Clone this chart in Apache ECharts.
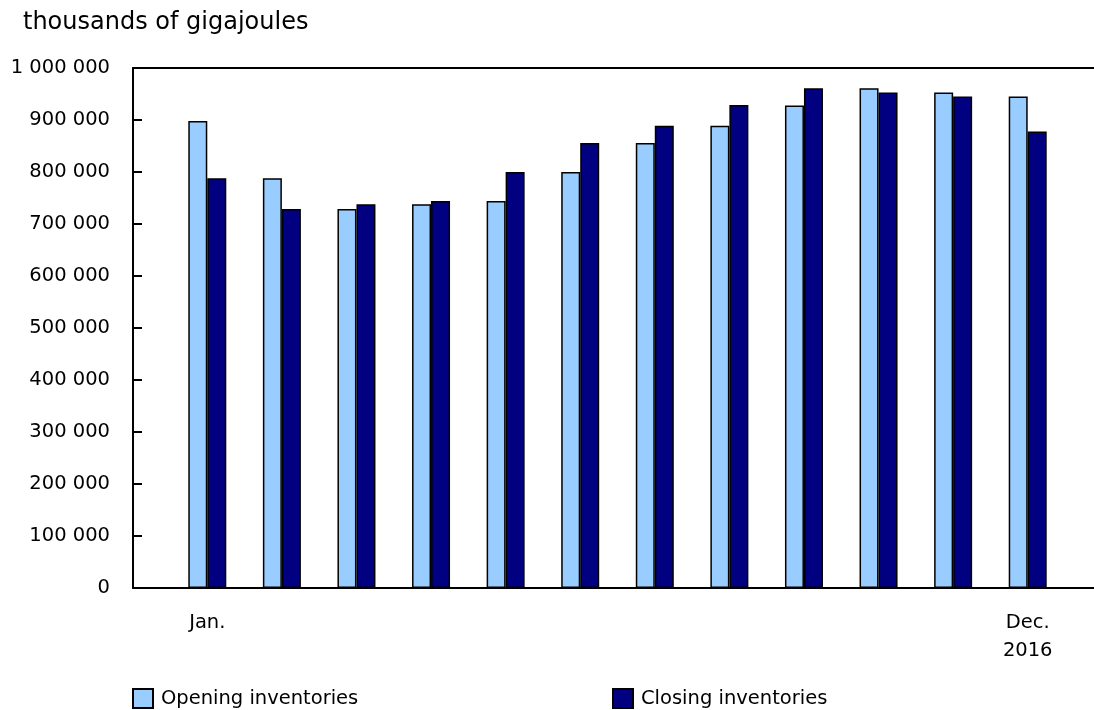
<!DOCTYPE html>
<html>
<head>
<meta charset="utf-8">
<script src="https://cdn.jsdelivr.net/npm/echarts@6/dist/echarts.min.js"></script>
<style>html,body{margin:0;padding:0;background:#fff}#c{width:1094px;height:710px}</style>
</head>
<body>
<div id="c"></div>
<script>
const months = ['Jan.','Feb.','Mar.','Apr.','May','Jun.','Jul.','Aug.','Sep.','Oct.','Nov.','Dec.'];
const yearLabel = '2016';
const openingInventories = [898000, 788000, 729000, 738000, 744000, 800000, 856000, 889000, 928000, 961000, 953000, 945000];
const closingInventories = [788000, 729000, 738000, 744000, 800000, 856000, 889000, 929000, 961000, 953000, 945000, 878000];
const seriesNames = ['Opening inventories', 'Closing inventories'];
const yTicks = {min: 0, max: 1000000, interval: 100000};

const FONT = 'Verdana, "DejaVu Sans", sans-serif';
const chart = echarts.init(document.getElementById('c'), null, {renderer: 'canvas'});
function fmt(v) { return String(v).replace(/\B(?=(\d{3})+(?!\d))/g, ' '); }

const legendText = {fontFamily: FONT, fontSize: 19.5, color: '#000', padding: [0, 0, 0, 3]};

chart.setOption({
  animation: false,
  backgroundColor: '#fff',
  title: {
    text: 'thousands of gigajoules', left: 18, top: 6,
    textStyle: {fontFamily: FONT, fontSize: 24, fontWeight: 'normal', color: '#000'}
  },
  legend: [
    {data: [seriesNames[0]], left: 127, top: 683, itemWidth: 20, itemHeight: 19, icon: 'rect', itemGap: 0,
     textStyle: legendText, selectedMode: false},
    {data: [seriesNames[1]], left: 607, top: 683, itemWidth: 20, itemHeight: 19, icon: 'rect', itemGap: 0,
     textStyle: legendText, selectedMode: false}
  ],
  grid: [
    {left: 133, top: 68, width: 961, height: 520},
    {left: 170, top: 68, width: 895, height: 520}
  ],
  xAxis: [
    {gridIndex: 0, type: 'value', min: 0, max: 1, position: 'bottom',
     axisLine: {show: true, lineStyle: {color: '#000', width: 2}}, axisTick: {show: false}, axisLabel: {show: false}, splitLine: {show: false}},
    {gridIndex: 0, type: 'value', min: 0, max: 1, position: 'top',
     axisLine: {show: true, lineStyle: {color: '#000', width: 2}}, axisTick: {show: false}, axisLabel: {show: false}, splitLine: {show: false}},
    {gridIndex: 1, type: 'category', data: months, boundaryGap: true,
     axisLine: {show: false}, axisTick: {show: false}, splitLine: {show: false},
     axisLabel: {
       interval: (i) => i === 0 || i === months.length - 1,
       formatter: (v, i) => i === months.length - 1 ? v + '\n' + yearLabel : v,
       fontFamily: FONT, fontSize: 19.5, color: '#000', lineHeight: 28, margin: 21
     }}
  ],
  yAxis: [
    {gridIndex: 0, type: 'value', min: yTicks.min, max: yTicks.max, interval: yTicks.interval,
     axisLine: {show: true, lineStyle: {color: '#000', width: 2}},
     axisTick: {show: true, inside: true, length: 9, lineStyle: {color: '#000', width: 2}},
     splitLine: {show: false},
     axisLabel: {formatter: fmt, fontFamily: FONT, fontSize: 19.5, color: '#000', margin: 23}},
    {gridIndex: 1, type: 'value', min: yTicks.min, max: yTicks.max, show: false, splitLine: {show: false}}
  ],
  series: [
    {name: seriesNames[0], type: 'bar', xAxisIndex: 2, yAxisIndex: 1, data: openingInventories,
     barWidth: 19, barGap: '0%',
     itemStyle: {color: '#99CCFF', borderColor: '#000', borderWidth: 1.5}},
    {name: seriesNames[1], type: 'bar', xAxisIndex: 2, yAxisIndex: 1, data: closingInventories,
     barWidth: 19, barGap: '0%',
     itemStyle: {color: '#000080', borderColor: '#000', borderWidth: 1.5}}
  ]
});
</script>
</body>
</html>
